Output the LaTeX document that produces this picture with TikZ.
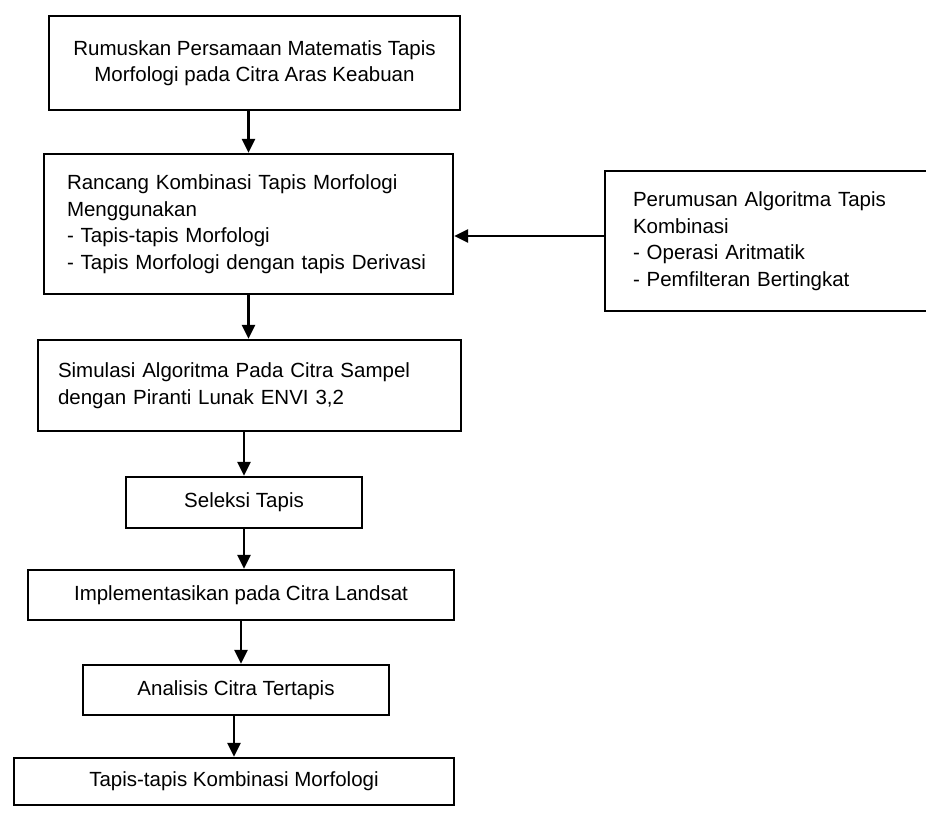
\documentclass[tikz,border=0pt]{standalone}
\usepackage{fontspec}
\setmainfont{Liberation Sans}
\usetikzlibrary{arrows.meta}
\begin{document}
\begin{tikzpicture}[x=1pt,y=-1pt,
  box/.style={draw,line width=2.4pt,inner sep=0pt,font=\fontsize{20.5}{26.5}\selectfont},
  cbox/.style={box,align=center},
  lbox/.style={box,align=left},
  arr/.style={line width=2.8pt,-{Triangle[length=14pt,width=13pt]}}]
\useasboundingbox (0,0) rectangle (926,817);
\clip (0,0) rectangle (926,817);
\node[cbox,minimum width=411pt,minimum height=94pt] (b1) at (254.5,63)
  {Rumuskan Persamaan Matematis Tapis\\Morfologi pada Citra Aras Keabuan};
\node[lbox,inner xsep=23pt,text width=363pt,minimum height=140pt] (b2) at (248.5,224)
  {Rancang Kombinasi Tapis Morfologi\\Menggunakan\\- Tapis-tapis Morfologi\\- Tapis Morfologi dengan tapis Derivasi};
\node[lbox,inner xsep=28pt,text width=274pt,minimum height=140pt] (rb) at (770,241)
  {Perumusan Algoritma Tapis\\Kombinasi\\- Operasi Aritmatik\\- Pemfilteran Bertingkat};
\node[lbox,inner xsep=20pt,text width=383pt,minimum height=91pt] (b3) at (249.5,385.5)
  {Simulasi Algoritma Pada Citra Sampel\\dengan Piranti Lunak ENVI 3,2};
\node[cbox,minimum width=236pt,minimum height=51pt] (b4) at (244,502.5) {Seleksi Tapis};
\node[cbox,minimum width=426pt,minimum height=50pt] (b5) at (241,595) {Implementasikan pada Citra Landsat};
\node[cbox,minimum width=306pt,minimum height=50pt] (b6) at (236,690) {Analisis Citra Tertapis};
\node[cbox,minimum width=440pt,minimum height=47pt] (b7) at (234,781.5) {Tapis-tapis Kombinasi Morfologi};
\draw[arr] (b1.south -| b2.north) -- (b2.north);
\draw[arr] ([yshift=5pt]rb.west) -- ([yshift=5pt]rb.west -| b2.east);
\draw[arr] (b2.south) -- (b2.south |- b3.north);
\draw[arr] (b3.south -| b4.north) -- (b4.north);
\draw[arr] (b4.south) -- (b4.south |- b5.north);
\draw[arr] (b5.south) -- (b5.south |- b6.north);
\draw[arr] (b6.south -| b7.north) -- (b7.north);
\end{tikzpicture}
\end{document}
